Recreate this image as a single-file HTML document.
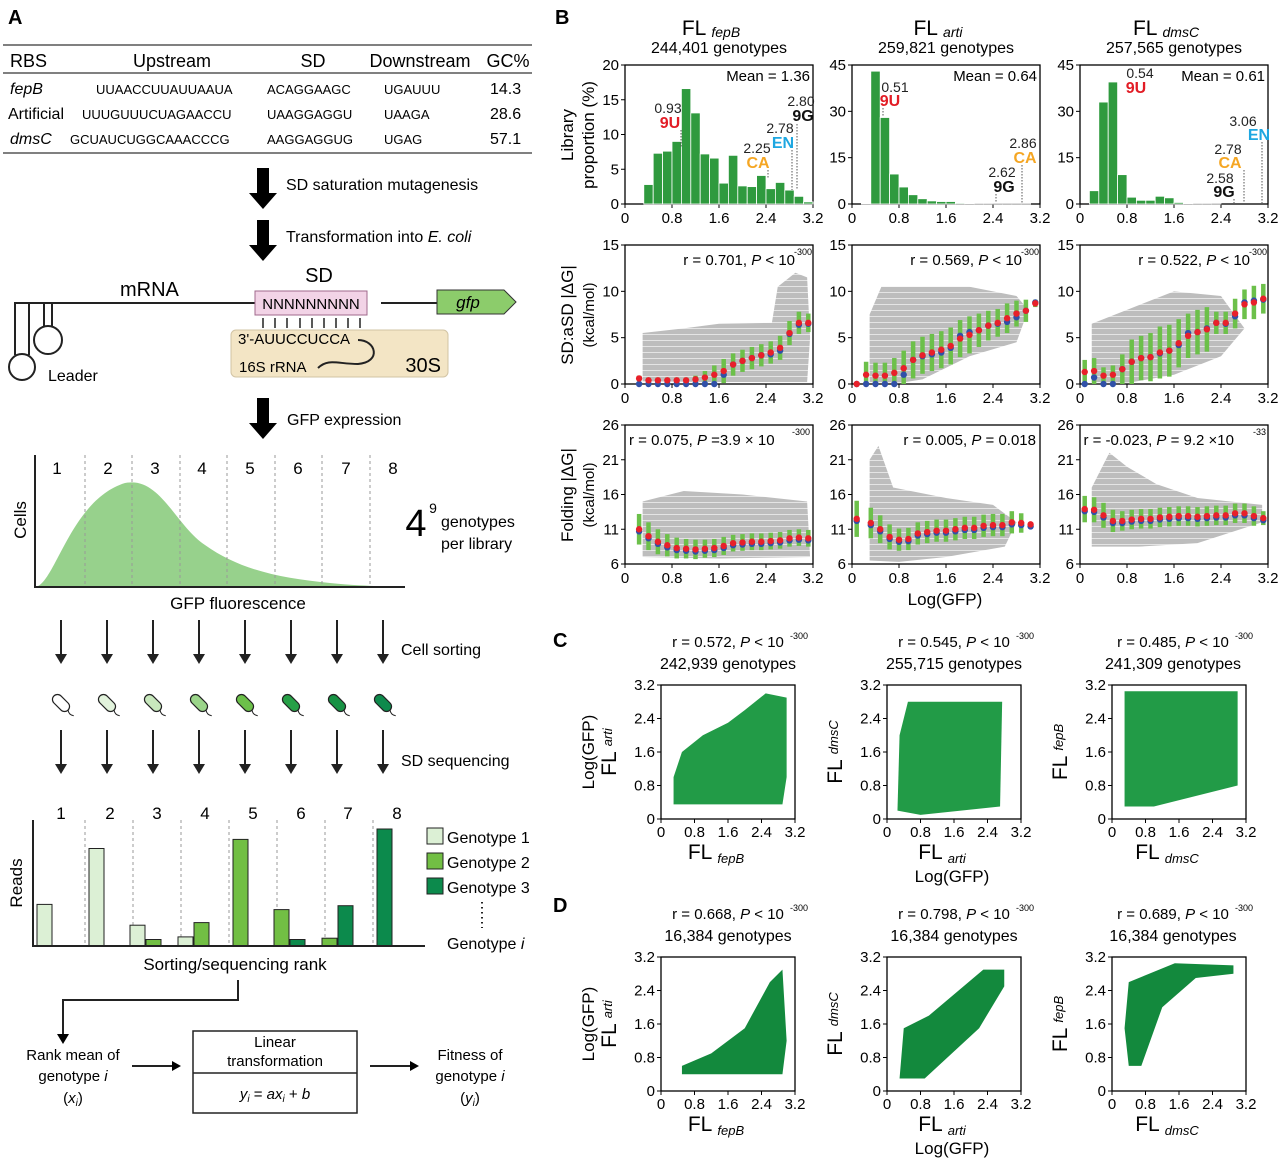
<!DOCTYPE html>
<html><head><meta charset="utf-8"><style>
body{margin:0;background:#fff;}
svg{display:block;font-family:"Liberation Sans",Arial,sans-serif;}
</style></head><body>
<svg id="fig" width="1280" height="1160" viewBox="0 0 1280 1160" xmlns="http://www.w3.org/2000/svg">
<defs>
<pattern id="grayStripe" width="6" height="6" patternUnits="userSpaceOnUse"><rect width="6" height="6" fill="#bdbdbd"/><rect y="4" width="6" height="1" fill="#e4e4e4"/></pattern>
</defs>
<g id="panelA">
<text x="8" y="24" font-size="20" font-weight="bold">A</text>
<g font-size="13">
<line x1="3" y1="45" x2="532" y2="45" stroke="#000"/>
<line x1="3" y1="73" x2="532" y2="73" stroke="#000"/>
<line x1="3" y1="153" x2="532" y2="153" stroke="#000"/>
<g font-size="18">
<text x="10" y="67">RBS</text><text x="172" y="67" text-anchor="middle">Upstream</text><text x="313" y="67" text-anchor="middle">SD</text><text x="420" y="67" text-anchor="middle">Downstream</text><text x="508" y="67" text-anchor="middle">GC%</text></g>
<g><text x="10" y="94" font-size="16" font-style="italic">fepB</text><text x="96" y="94">UUAACCUUAUUAAUA</text><text x="267" y="94">ACAGGAAGC</text><text x="384" y="94">UGAUUU</text><text x="490" y="94" font-size="16">14.3</text></g>
<g><text x="8" y="119" font-size="16">Artificial</text><text x="82" y="119">UUUGUUUCUAGAACCU</text><text x="267" y="119">UAAGGAGGU</text><text x="384" y="119">UAAGA</text><text x="490" y="119" font-size="16">28.6</text></g>
<g><text x="10" y="144" font-size="16" font-style="italic">dmsC</text><text x="70" y="144">GCUAUCUGGCAAACCCG</text><text x="267" y="144">AAGGAGGUG</text><text x="384" y="144">UGAG</text><text x="490" y="144" font-size="16">57.1</text></g>
</g>
<g font-size="16">
<path d="M257 168h12v25h8l-14 16l-14-16h8z"/>
<text x="286" y="190">SD saturation mutagenesis</text>
<path d="M257 220h12v25h8l-14 16l-14-16h8z"/>
<text x="286" y="242">Transformation into <tspan font-style="italic">E. coli</tspan></text>
<path d="M257 398h12v25h8l-14 16l-14-16h8z"/>
<text x="287" y="425">GFP expression</text>
</g>
<g stroke="#222" stroke-width="2" fill="none">
<path d="M15 355V303h250M29 355V303M44 327V303M52 327V303"/>
<circle cx="22" cy="367" r="13"/><circle cx="48" cy="340" r="14"/>
<line x1="381" y1="303" x2="455" y2="303"/>
</g>
<text x="120" y="296" font-size="20">mRNA</text>
<text x="48" y="381" font-size="16">Leader</text>
<text x="319" y="282" font-size="20" text-anchor="middle">SD</text>
<rect x="255" y="291" width="112" height="24" fill="#f2d3e6" stroke="#a06a8c"/>
<text x="311" y="309" font-size="15" text-anchor="middle">NNNNNNNNN</text>
<path d="M437 290h67l12 12l-12 12h-67z" fill="#8ccc6b" stroke="#333"/>
<text x="468" y="308" font-size="17" font-style="italic" text-anchor="middle">gfp</text>
<rect x="231" y="330" width="217" height="47" rx="5" fill="#f3e5c5" stroke="#d2c4a4"/>
<g stroke="#222" stroke-width="1.5">
<path d="M263 318v10M275 318v10M287 318v10M300 318v10M312 318v10M324 318v10M336 318v10M348 318v10M360 318v10"/></g>
<text x="238" y="344" font-size="15">3'-AUUCCUCCA</text>
<path d="M358 340c18 0 24 22 0 24c-20 0-30-6-40 4" stroke="#222" stroke-width="2" fill="none"/>
<text x="239" y="372" font-size="15">16S rRNA</text>
<text x="441" y="372" font-size="20" text-anchor="end">30S</text>
<g id="distribution"></g>
<g id="sortArrows"></g>
<text x="401" y="655" font-size="16">Cell sorting</text>
<text x="401" y="766" font-size="16">SD sequencing</text>
<g id="readsPlot"></g>
<g font-size="15" text-anchor="middle">
<path d="M238 980v20H63v36" stroke="#222" stroke-width="2" fill="none"/><path d="M57 1034h12l-6 10z"/>
<text x="73" y="1060">Rank mean of</text><text x="73" y="1081">genotype <tspan font-style="italic">i</tspan></text><text x="73" y="1103">(<tspan font-style="italic">x</tspan><tspan font-size="10" dy="3" font-style="italic">i</tspan><tspan dy="-3">)</tspan></text>
<path d="M132 1066h42" stroke="#222" stroke-width="2"/><path d="M172 1061l9 5l-9 5z"/>
<rect x="193" y="1031" width="164" height="82" fill="none" stroke="#222" stroke-width="1.5"/>
<line x1="193" y1="1073" x2="357" y2="1073" stroke="#222" stroke-width="1.5"/>
<text x="275" y="1047">Linear</text><text x="275" y="1066">transformation</text>
<text x="275" y="1099" font-style="italic">y<tspan font-size="10" dy="3">i</tspan><tspan dy="-3" font-style="normal"> = </tspan>ax<tspan font-size="10" dy="3">i</tspan><tspan dy="-3" font-style="normal"> + </tspan>b</text>
<path d="M370 1066h42" stroke="#222" stroke-width="2"/><path d="M410 1061l9 5l-9 5z"/>
<text x="470" y="1060">Fitness of</text><text x="470" y="1081">genotype <tspan font-style="italic">i</tspan></text><text x="470" y="1103">(<tspan font-style="italic">y</tspan><tspan font-size="10" dy="3" font-style="italic">i</tspan><tspan dy="-3">)</tspan></text>
</g>
</g>
<g id="panelB"></g>
<g id="panelCD"></g>
</svg>
<script>
const NS='http://www.w3.org/2000/svg';
// ---------------- DATA ----------------
const binWidth=0.16;
const histStart=[0.32,0.16,0.16];
const histFepB=[2.8,7.3,7.6,9.0,16.6,13.1,7.2,6.6,3.0,7.0,2.6,2.5,4.1,2.2,3.1,2.0,1.1,0.3];
const histArti=[0.2,43,28,9.7,5.5,3.0,1.7,1.0,0.8,0.8,0.3,0.2,0.1,0.1,0.05,0.05,0.05,0.05];
const histDmsC=[4.3,33,39.5,9.5,2.2,1.2,1.2,2.5,2.0,0.5,0.2,0.1,0.1,0.05,0,0,0,0];
const histYMax=[20,45,45];
const histYTicks=[[0,5,10,15,20],[0,15,30,45],[0,15,30,45]];
const meanLabels=['Mean = 1.36','Mean = 0.64','Mean = 0.61'];
const xTicks=[0,0.8,1.6,2.4,3.2];
const xTickLabels=['0','0.8','1.6','2.4','3.2'];
const sdX=[[0.24,0.4,0.56,0.72,0.88,1.04,1.2,1.36,1.52,1.68,1.84,2.0,2.16,2.32,2.48,2.64,2.8,2.96,3.12],
 [0.08,0.24,0.4,0.56,0.72,0.88,1.04,1.2,1.36,1.52,1.68,1.84,2.0,2.16,2.32,2.48,2.64,2.8,2.96,3.12],
 [0.08,0.24,0.4,0.56,0.72,0.88,1.04,1.2,1.36,1.52,1.68,1.84,2.0,2.16,2.32,2.48,2.64,2.8,2.96,3.12]];
const sdMean=[[0.6,0.4,0.4,0.4,0.4,0.4,0.5,0.7,1.0,1.4,2.1,2.5,2.8,3.1,3.4,3.9,5.5,6.6,6.6],
 [0,1.0,0.9,0.9,1.2,1.7,2.6,3.1,3.4,3.7,4.1,4.9,5.3,5.8,6.3,6.6,7.1,7.6,7.9,8.7],
 [1.3,1.4,0.9,1.0,1.6,2.4,2.8,2.9,3.4,3.6,4.4,5.2,5.6,5.9,6.6,6.6,7.6,8.6,8.8,9.2]];
const sdMedian=[[0,0,0,0,0,0,0,0,0,1.0,2.1,2.5,2.8,3.1,3.2,3.6,5.4,6.4,6.5],
 [0,0,0,0,0,1.0,2.6,3.0,3.2,3.4,3.9,5.2,5.6,5.8,6.3,6.5,6.7,7.2,7.9,8.8],
 [0,0.7,0,0,1.6,2.4,2.8,2.9,3.3,3.6,4.2,5.5,5.6,6.0,6.6,6.5,7.3,8.8,9.0,9.1]];
const sdSpread=[[0.3,0.3,0.3,0.3,0.3,0.3,0.4,0.7,1.0,1.3,1.2,1.2,1.2,1.2,1.2,1.3,1.3,1.2,1.0],
 [0.1,1.4,1.4,1.4,1.6,1.9,2.0,2.0,2.0,2.0,2.0,2.0,2.0,1.8,1.6,1.5,1.6,1.4,1.2,0.4],
 [1.3,1.4,0.9,1.0,1.6,2.4,2.4,2.6,2.8,2.8,2.6,2.4,2.4,2.4,1.2,1.2,1.6,1.6,1.8,1.6]];
const foldX=[[0.24,0.4,0.56,0.72,0.88,1.04,1.2,1.36,1.52,1.68,1.84,2.0,2.16,2.32,2.48,2.64,2.8,2.96,3.12],
 [0.08,0.32,0.48,0.64,0.8,0.96,1.12,1.28,1.44,1.6,1.76,1.92,2.08,2.24,2.4,2.56,2.72,2.88,3.04],
 [0.08,0.24,0.4,0.56,0.72,0.88,1.04,1.2,1.36,1.52,1.68,1.84,2.0,2.16,2.32,2.48,2.64,2.8,2.96,3.12]];
const foldMean=[[11.0,10.0,9.2,8.7,8.3,8.2,8.1,8.2,8.3,8.6,9.0,9.1,9.2,9.2,9.3,9.4,9.7,9.8,9.7],
 [12.5,11.9,11.0,9.9,9.5,9.6,10.4,10.6,10.8,10.8,11.0,11.2,11.2,11.5,11.6,11.6,12.0,11.9,11.7],
 [13.9,13.8,13.0,12.2,12.2,12.4,12.5,12.5,12.7,12.8,12.9,12.9,12.8,12.9,13.0,13.0,13.3,13.3,12.9,12.6]];
const foldSpread=[[2.2,2.0,1.8,1.6,1.5,1.4,1.4,1.3,1.3,1.3,1.2,1.2,1.2,1.2,1.2,1.2,1.2,1.2,1.2],
 [2.6,2.2,2.0,1.8,1.6,1.6,1.6,1.6,1.6,1.6,1.6,1.6,1.6,1.6,1.6,1.6,1.6,1.4,0],
 [1.9,1.8,1.8,1.6,1.4,1.4,1.4,1.4,1.4,1.4,1.4,1.4,1.4,1.4,1.4,1.4,1.4,1.4,1.4,1.0]];
const sdStats=['r = 0.701, ','r = 0.569, ','r = 0.522, '];
const foldStats=['r = 0.075, |P| =3.9 × 10|-300','r = 0.005, |P| = 0.018','r = -0.023, |P| = 9.2 ×10|-33'];
const titles=['fepB','arti','dmsC'];
const genotypeCounts=['244,401 genotypes','259,821 genotypes','257,565 genotypes'];
const cdR=[['0.572','0.545','0.485'],['0.668','0.798','0.689']];
const cdCounts=[['242,939 genotypes','255,715 genotypes','241,309 genotypes'],['16,384 genotypes','16,384 genotypes','16,384 genotypes']];
const cdXLib=['fepB','arti','dmsC'];
const cdYLib=['arti','dmsC','fepB'];
// outlines of dense point clouds (data coords: log GFP, value)
const sdCloud=[[[0.3,0.3],[0.3,5.5],[1.0,6.0],[1.6,6.5],[2.5,6.6],[2.6,10.5],[2.9,12],[3.1,11.5],[3.15,5],[3.1,0.2],[1.6,0.2]],
 [[0.3,0.2],[0.3,7.5],[0.5,10.5],[2.0,10.5],[2.8,9.5],[3.0,8],[2.8,4.5],[2.0,3],[1.2,0.5],[0.8,0.1]],
 [[0.2,0.2],[0.2,6.5],[0.6,7.5],[1.6,10],[2.4,9.5],[2.8,6],[2.4,3],[1.6,1],[0.8,0.1]]];
const foldCloud=[[[0.3,7],[0.3,15],[1.0,16.5],[2.0,16],[3.1,15],[3.15,7],[1.6,6.8]],
 [[0.3,6.5],[0.3,21],[0.45,23],[0.7,17],[1.6,15.5],[2.4,14.5],[2.8,12],[2.6,8.5],[1.6,7],[0.8,6.3]],
 [[0.2,8.5],[0.2,17],[0.5,22],[0.8,20],[1.3,17.5],[2.0,15.5],[3.1,14.5],[3.1,12],[2.0,9],[1.0,8.5]]];
const cCloud=[[[0.3,0.35],[2.9,0.35],[3.0,1.0],[3.0,2.9],[2.5,3.0],[2.0,2.6],[1.6,2.3],[1.0,2.0],[0.5,1.6],[0.3,1.0]],
 [[0.25,0.2],[0.8,0.1],[2.7,0.3],[2.75,2.8],[0.5,2.8],[0.3,2.0]],
 [[0.3,0.3],[1.0,0.3],[3.0,0.8],[3.0,3.05],[0.3,3.05]]];
const dCloud=[[[0.5,0.4],[2.9,0.4],[3.0,1.2],[2.9,2.9],[2.6,2.6],[2.0,1.5],[1.2,0.9],[0.5,0.6]],
 [[0.3,0.3],[0.9,0.3],[2.2,1.5],[2.8,2.5],[2.8,2.9],[2.3,2.9],[1.0,1.8],[0.4,1.5]],
 [[0.4,0.6],[0.7,0.6],[1.2,2.0],[2.0,2.7],[2.9,2.8],[2.9,3.0],[1.5,3.05],[0.4,2.6],[0.3,1.5]]];
// schematic data
const gateLabels=['1','2','3','4','5','6','7','8'];
const cellGreens=['#ffffff','#e2f3dc','#c8e8bd','#9bd58a','#6cc04a','#27a047','#179244','#0e8a4c'];
const readsG1=[0.32,0.75,0.16,0.07,0,0,0,0];
const readsG2=[0,0,0.05,0.18,0.82,0.28,0.06,0];
const readsG3=[0,0,0,0,0,0.05,0.31,0.9];
// ---------------- HELPERS ----------------
function el(parent,tag,attrs,name){const e=document.createElementNS(NS,tag);for(const k in attrs)e.setAttribute(k,attrs[k]);


parent.appendChild(e);return e;}
function txt(parent,x,y,s,size,anchor,name,extra){const t=el(parent,'text',Object.assign({x:x,y:y,'font-size':size,'text-anchor':anchor||'start'},extra||{}),name);t.textContent=s;return t;}
function axes(parent,x0,y0,w,h,ymin,ymax,yt,name,xtl){
 const sx=v=>x0+v/3.2*w, sy=v=>y0+h-(v-ymin)/(ymax-ymin)*h;
 el(parent,'rect',{x:x0,y:y0,width:w,height:h,fill:'none',stroke:'#000','stroke-width':1.3},name+'-frame');
 xtl.forEach((v,i)=>{el(parent,'line',{x1:sx(v),x2:sx(v),y1:y0+h,y2:y0+h+4,stroke:'#000'},name+'-x-tick');
  txt(parent,sx(v),y0+h+19,xTickLabels[i],15,'middle',name+'-x-tick-label');});
 yt.forEach(v=>{el(parent,'line',{x1:x0-4,x2:x0,y1:sy(v),y2:sy(v),stroke:'#000'},name+'-y-tick');
  txt(parent,x0-6,sy(v)+5,String(v),15,'end',name+'-y-tick-label');});
 return {sx,sy};}
function poly(parent,pts,s,fill,name,op){el(parent,'polygon',{points:pts.map(p=>s.sx(p[0])+','+s.sy(p[1])).join(' '),fill:fill,opacity:op||1},name);}
// ---------------- PANEL A plots ----------------
(function(){
 const g=document.getElementById('distribution');
 el(g,'path',{d:'M35 587C55 585 70 500 125 483C160 476 175 525 205 545C240 570 280 578 330 583C360 586 380 586 400 587Z',fill:'#97d18c'},'fluorescence-curve');
 [85,132,180,227,275,322,370].forEach(x=>el(g,'line',{x1:x,x2:x,y1:455,y2:587,stroke:'#999','stroke-dasharray':'3,3'},'gate-divider'));
 el(g,'path',{d:'M35 455V587H405',stroke:'#222','stroke-width':2,fill:'none'},'distribution-axes');
 const gx=[57,108,155,202,250,298,346,393];
 gateLabels.forEach((s,i)=>txt(g,gx[i],474,s,17,'middle','gate-number'));
 txt(g,26,520,'Cells',17,'middle','cells-axis-title',{transform:'rotate(-90 26 520)'});
 txt(g,238,609,'GFP fluorescence',17,'middle','fluorescence-axis-title');
 txt(g,416,536,'4',38,'middle','library-size-base');
 txt(g,433,513,'9',14,'middle','library-size-exponent');
 txt(g,441,527,'genotypes',16,'start','genotypes-label');
 txt(g,441,549,'per library',16,'start','per-library-label');
 const a=document.getElementById('sortArrows');
 const ax=[61,107,153,199,245,291,337,383];
 ax.forEach((x,i)=>{[[620,656],[730,766]].forEach(r=>{el(a,'line',{x1:x,x2:x,y1:r[0],y2:r[1],stroke:'#222','stroke-width':2},'sort-arrow-shaft');
  el(a,'path',{d:`M${x-6} ${r[1]-2}h12l-6 10z`,fill:'#222'},'sort-arrow-head');});
  const c=el(a,'g',{transform:`translate(${x} 703) rotate(45)`},'sorted-cell');
  el(c,'rect',{x:-10,y:-5,width:20,height:10,rx:5,fill:cellGreens[i],stroke:'#222','stroke-width':1.2},'cell-body');
  el(c,'path',{d:'M10 0q4 3 8 0',stroke:'#222',fill:'none'},'cell-flagellum');});
 const r=document.getElementById('readsPlot');
 [85,133,181,229,277,325,373].forEach(x=>el(r,'line',{x1:x,x2:x,y1:820,y2:946,stroke:'#999','stroke-dasharray':'3,3'},'rank-divider'));
 const rx=[61,110,157,205,253,301,348,397];
 gateLabels.forEach((s,i)=>txt(r,rx[i],819,s,17,'middle','rank-number'));
 const base=946,H=130,bw=15;const cols=['#dcf0d5','#72bf44','#0c8a4c'];
 for(let i=0;i<8;i++){const list=[[readsG1[i],0],[readsG2[i],1],[readsG3[i],2]].filter(d=>d[0]>0);
  const start=37+i*48-(list.length>1?3:0)+(list.length===1&&i>0?4:0);
  list.forEach((d,j)=>{const hh=d[0]*H;el(r,'rect',{x:start+j*16,y:base-hh,width:bw,height:hh,fill:cols[d[1]],stroke:'#222'},'reads-bar-genotype-'+(d[1]+1));});}
 el(r,'path',{d:'M33 820V946H425',stroke:'#222','stroke-width':2,fill:'none'},'reads-axes');
 txt(r,22,883,'Reads',17,'middle','reads-axis-title',{transform:'rotate(-90 22 883)'});
 txt(r,235,970,'Sorting/sequencing rank',17,'middle','rank-axis-title');
 ['Genotype 1','Genotype 2','Genotype 3'].forEach((s,i)=>{el(r,'rect',{x:427,y:828+i*25,width:16,height:16,fill:cols[i],stroke:'#222'},'legend-swatch');
  txt(r,447,843+i*25,s,16,'start','legend-entry');});
 el(r,'line',{x1:482,x2:482,y1:902,y2:928,stroke:'#222','stroke-dasharray':'1.5,3.5','stroke-width':2},'legend-ellipsis');
 const t=txt(r,447,949,'Genotype ',16,'start','legend-entry-i');const ts=document.createElementNS(NS,'tspan');ts.setAttribute('font-style','italic');ts.textContent='i';t.appendChild(ts);
})();
// ---------------- PANEL B ----------------
(function(){
 const g=document.getElementById('panelB');
 txt(g,555,24,'B',20,'start','panel-label-b',{'font-weight':'bold'});
 const px=[625,852,1080],W=188,rows=[65,245,425],H=139;
 const hists=[histFepB,histArti,histDmsC];
 for(let k=0;k<3;k++){
  const cx=px[k]+W/2;
  const t=txt(g,cx-8,35,'FL ',21,'middle','library-title-'+titles[k]);
  const ts=document.createElementNS(NS,'tspan');ts.setAttribute('font-size','14');ts.setAttribute('font-style','italic');ts.setAttribute('dy','2');ts.textContent=titles[k];t.appendChild(ts);
  txt(g,cx,53,genotypeCounts[k],16,'middle','genotype-count');
  const hg=el(g,'g',{},'histogram-'+titles[k]);
  const s=axes(hg,px[k],rows[0],W,H,0,histYMax[k],histYTicks[k],'histogram',xTicks);
  hists[k].forEach((v,i)=>{const x=histStart[k]+i*binWidth;if(v<=0)return;
   el(hg,'rect',{x:s.sx(x),y:s.sy(v),width:s.sx(x+binWidth)-s.sx(x),height:s.sy(0)-s.sy(v),fill:'#2f9a3e',stroke:'#fff','stroke-width':0.8},'histogram-bar');});
  txt(hg,px[k]+W-3,rows[0]+16,meanLabels[k],15,'end','mean-label');
  const sg=el(g,'g',{},'sd-scatter-'+titles[k]);
  const s2=axes(sg,px[k],rows[1],W,H,0,15,[0,5,10,15],'sd',xTicks);
  poly(sg,sdCloud[k],s2,'url(#grayStripe)','sd-point-cloud',1);
  sdX[k].forEach((x,i)=>{el(sg,'line',{x1:s2.sx(x),x2:s2.sx(x),y1:s2.sy(Math.max(0,sdMean[k][i]-sdSpread[k][i])),y2:s2.sy(sdMean[k][i]+sdSpread[k][i]),stroke:'#6cc04a','stroke-width':4.5},'sd-error-bar');});
  sdX[k].forEach((x,i)=>{el(sg,'circle',{cx:s2.sx(x),cy:s2.sy(sdMedian[k][i]),r:3.2,fill:'#3050a8'},'sd-median-point');
   el(sg,'circle',{cx:s2.sx(x),cy:s2.sy(sdMean[k][i]),r:3.2,fill:'#e8202a'},'sd-mean-point');});
  const st=txt(sg,px[k]+W-18,rows[1]+20,sdStats[k],15,'end','sd-correlation-label');
  const p1=document.createElementNS(NS,'tspan');p1.setAttribute('font-style','italic');p1.textContent='P';st.appendChild(p1);
  const p2=document.createElementNS(NS,'tspan');p2.textContent=' < 10';st.appendChild(p2);
  txt(sg,px[k]+W-1,rows[1]+10,'-300',9,'end','sd-correlation-exponent');
  const fg=el(g,'g',{},'folding-scatter-'+titles[k]);
  const s3=axes(fg,px[k],rows[2],W,H,6,26,[6,11,16,21,26],'folding',xTicks);
  poly(fg,foldCloud[k],s3,'url(#grayStripe)','folding-point-cloud',1);
  foldX[k].forEach((x,i)=>{if(foldSpread[k][i]>0)el(fg,'line',{x1:s3.sx(x),x2:s3.sx(x),y1:s3.sy(foldMean[k][i]-foldSpread[k][i]),y2:s3.sy(foldMean[k][i]+foldSpread[k][i]),stroke:'#6cc04a','stroke-width':4.5},'folding-error-bar');});
  foldX[k].forEach((x,i)=>{el(fg,'circle',{cx:s3.sx(x),cy:s3.sy(foldMean[k][i]-0.3),r:3.2,fill:'#3050a8'},'folding-median-point');
   el(fg,'circle',{cx:s3.sx(x),cy:s3.sy(foldMean[k][i]),r:3.2,fill:'#e8202a'},'folding-mean-point');});
  const parts=foldStats[k].split('|');
  const ft=txt(fg,k==0?px[k]+4:px[k]+W-4-(k==2?30:0),rows[2]+20,'',15,k==0?'start':'end','folding-correlation-label');
  [parts[0],parts[1],parts[2]].forEach((p,j)=>{const sp=document.createElementNS(NS,'tspan');if(j==1)sp.setAttribute('font-style','italic');sp.textContent=p;ft.appendChild(sp);});
  if(parts.length>3){const bb=k==0?px[k]+W-3:px[k]+W-2;txt(fg,bb,rows[2]+10,parts[3],9,'end','folding-correlation-exponent');}
 }
 txt(g,573,135,'Library',17,'middle','y-axis-title-library',{transform:'rotate(-90 573 135)'});
 txt(g,594,135,'proportion (%)',17,'middle','y-axis-title-proportion',{transform:'rotate(-90 594 135)'});
 txt(g,573,315,'SD:aSD |ΔG|',17,'middle','y-axis-title-sd',{transform:'rotate(-90 573 315)'});
 txt(g,594,315,'(kcal/mol)',15,'middle','y-axis-title-sd-unit',{transform:'rotate(-90 594 315)'});
 txt(g,573,495,'Folding |ΔG|',17,'middle','y-axis-title-folding',{transform:'rotate(-90 573 495)'});
 txt(g,594,495,'(kcal/mol)',15,'middle','y-axis-title-folding-unit',{transform:'rotate(-90 594 495)'});
 txt(g,945,605,'Log(GFP)',17,'middle','x-axis-title-b');
 const ann=[[668,113,'0.93','#222',0],[670,128,'9U','#e21c25',1],[757,153,'2.25','#222',0],[758,168,'CA','#f5a623',1],[780,133,'2.78','#222',0],[783,148,'EN','#1ea7e1',1],[801,106,'2.80','#222',0],[803,121,'9G','#111',1],
 [895,92,'0.51','#222',0],[890,106,'9U','#e21c25',1],[1023,148,'2.86','#222',0],[1025,163,'CA','#f5a623',1],[1002,177,'2.62','#222',0],[1004,192,'9G','#111',1],
 [1140,78,'0.54','#222',0],[1136,93,'9U','#e21c25',1],[1243,126,'3.06','#222',0],[1259,140,'EN','#1ea7e1',1],[1228,154,'2.78','#222',0],[1230,168,'CA','#f5a623',1],[1220,183,'2.58','#222',0],[1224,197,'9G','#111',1]];
 ann.forEach(a=>txt(g,a[0],a[1],a[2],a[4]?16:14,'middle',a[4]?'variant-label':'variant-value',{fill:a[3],'font-weight':a[4]?'bold':'normal'}));
 [[681,130,148],[768,170,178],[792,150,190],[797,124,190],[883,108,117],[1022,165,203],[996,194,203],[1244,170,203],[1262,142,203],[1234,199,203]].forEach(l=>el(g,'line',{x1:l[0],x2:l[0],y1:l[1],y2:l[2],stroke:'#555','stroke-dasharray':'1.5,1.5'},'variant-marker-line'));
})();
// ---------------- PANELS C & D ----------------
(function(){
 const g=document.getElementById('panelCD');
 txt(g,553,647,'C',20,'start','panel-label-c',{'font-weight':'bold'});
 txt(g,553,912,'D',20,'start','panel-label-d',{'font-weight':'bold'});
 const px=[661,887,1112],py=[685,957],S=134;
 const clouds=[cCloud,dCloud];
 for(let r=0;r<2;r++)for(let k=0;k<3;k++){
  const pg=el(g,'g',{},'scatter-'+(r?'d':'c')+'-'+cdXLib[k]);
  const cx=px[k]+S/2+(k==2?-6:0);
  const tt=txt(pg,cx,py[r]-38,'r = '+cdR[r][k]+', ',15,'middle','correlation-label');
  const ip=document.createElementNS(NS,'tspan');ip.setAttribute('font-style','italic');ip.textContent='P';tt.appendChild(ip);
  const lp=document.createElementNS(NS,'tspan');lp.textContent=' < 10       ';tt.appendChild(lp);
  txt(pg,cx+62,py[r]-46,'-300',9,'start','correlation-exponent');
  txt(pg,cx,py[r]-16,cdCounts[r][k],16,'middle','genotype-count');
  const s={sx:v=>px[k]+v/3.2*S,sy:v=>py[r]+S-v/3.2*S};
  poly(pg,clouds[r][k],s,r?'#13893d':'#229b47','scatter-cloud');
  el(pg,'rect',{x:px[k],y:py[r],width:S,height:S,fill:'none',stroke:'#000','stroke-width':1.3},'scatter-frame');
  xTicks.forEach((v,i)=>{el(pg,'line',{x1:s.sx(v),x2:s.sx(v),y1:py[r]+S,y2:py[r]+S+4,stroke:'#000'},'x-tick');
   txt(pg,s.sx(v),py[r]+S+18,xTickLabels[i],15,'middle','x-tick-label');
   el(pg,'line',{x1:px[k]-4,x2:px[k],y1:s.sy(v),y2:s.sy(v),stroke:'#000'},'y-tick');
   txt(pg,px[k]-6,s.sy(v)+5,xTickLabels[i],15,'end','y-tick-label');});
  const xl=txt(pg,px[k]+S/2-12,py[r]+S+40,'FL ',21,'middle','x-axis-title');
  const xs=document.createElementNS(NS,'tspan');xs.setAttribute('font-size','13');xs.setAttribute('font-style','italic');xs.setAttribute('dy','4');xs.textContent=cdXLib[k];xl.appendChild(xs);
  const yx=px[k]-45,yy=py[r]+S/2;
  const yl=txt(pg,yx,yy,'FL ',21,'middle','y-axis-title',{transform:`rotate(-90 ${yx} ${yy})`});
  const ys=document.createElementNS(NS,'tspan');ys.setAttribute('font-size','13');ys.setAttribute('font-style','italic');ys.setAttribute('dy','-4');ys.textContent=cdYLib[k];yl.appendChild(ys);
 }
 txt(g,594,752,'Log(GFP)',17,'middle','c-y-axis-title',{transform:'rotate(-90 594 752)'});
 txt(g,594,1024,'Log(GFP)',17,'middle','d-y-axis-title',{transform:'rotate(-90 594 1024)'});
 txt(g,952,882,'Log(GFP)',17,'middle','c-x-axis-title');
 txt(g,952,1154,'Log(GFP)',17,'middle','d-x-axis-title');
})();
</script>
</body></html>
